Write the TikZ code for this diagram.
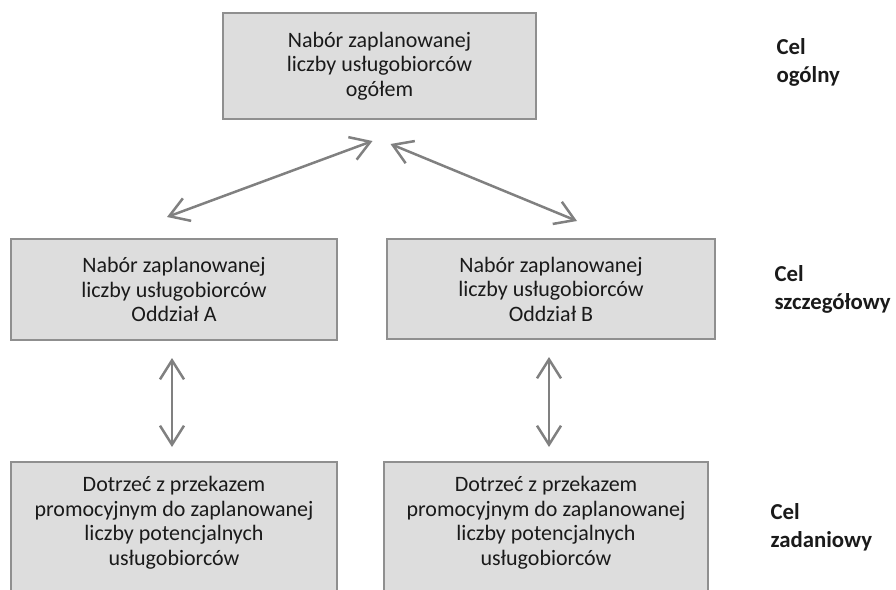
\documentclass[tikz,border=0pt]{standalone}
\usepackage{fontspec}
\setmainfont{Carlito}
\usepackage{xcolor}
\usetikzlibrary{arrows.meta}

\definecolor{boxfill}{HTML}{DDDDDD}
\definecolor{boxline}{HTML}{8F8F8F}
\definecolor{linkgray}{HTML}{808080}
\definecolor{ink}{HTML}{1A1A1A}

\tikzset{
  goal/.style={draw=boxline, line width=2pt, fill=boxfill, inner sep=0pt,
    align=center, text=ink, font=\fontsize{22}{24.5}\selectfont},
  goaltext/.style={align=center, text=ink, font=\fontsize{22}{24.5}\selectfont},
  level/.style={anchor=west, align=left, text=ink,
    font=\bfseries\fontsize{22.8}{28}\selectfont},
  link/.style={draw=linkgray, line width=2.5pt,
    {Straight Barb[length=19pt,width=24pt]}-{Straight Barb[length=19pt,width=24pt]}}
}

\begin{document}
\begin{tikzpicture}[x=1pt,y=-1pt]
  \useasboundingbox (0,0) rectangle (896,589);
  \clip (0,0) rectangle (896,589);
  % general goal
  \node[goal, minimum width=313pt, minimum height=106pt] (ogol) at (379.5,66)
    {Nabór zaplanowanej\\liczby usługobiorców\\ogółem};
  % specific goals
  \node[goal, minimum width=326pt, minimum height=101pt] (szczA) at (174,289.5)
    {Nabór zaplanowanej\\liczby usługobiorców\\Oddział A};
  \node[goal, minimum width=328pt, minimum height=100pt] (szczB) at (551,289)
    {Nabór zaplanowanej\\liczby usługobiorców\\Oddział B};
  % task goals
  \node[goal, anchor=north, minimum width=326pt, minimum height=150pt] (zadA) at (174,461) {};
  \node[goaltext] (zadAt) at (174,522.5)
    {Dotrzeć z przekazem\\promocyjnym do zaplanowanej\\liczby potencjalnych\\usługobiorców};
  \node[goal, anchor=north, minimum width=324pt, minimum height=150pt] (zadB) at (546,461) {};
  \node[goaltext] (zadBt) at (546,522.5)
    {Dotrzeć z przekazem\\promocyjnym do zaplanowanej\\liczby potencjalnych\\usługobiorców};
  % levels
  \node[level] (lv1) at (773,62) {Cel\\ogólny};
  \node[level] (lv2) at (771,289) {Cel\\szczegółowy};
  \node[level] (lv3) at (767,527) {Cel\\zadaniowy};
  % links
  \draw[link] ([shift={(-7,21)}]ogol.south) -- ([shift={(-7,-21)}]szczA.north);
  \draw[link] ([shift={(11,24)}]ogol.south) -- ([shift={(26,-17)}]szczB.north);
  \draw[link] ([shift={(-2,17)}]szczA.south) -- ([shift={(-2,-14)}]zadA.north);
  \draw[link] ([shift={(-2,17)}]szczB.south) -- ([shift={(3,-14)}]zadB.north);
\end{tikzpicture}
\end{document}
